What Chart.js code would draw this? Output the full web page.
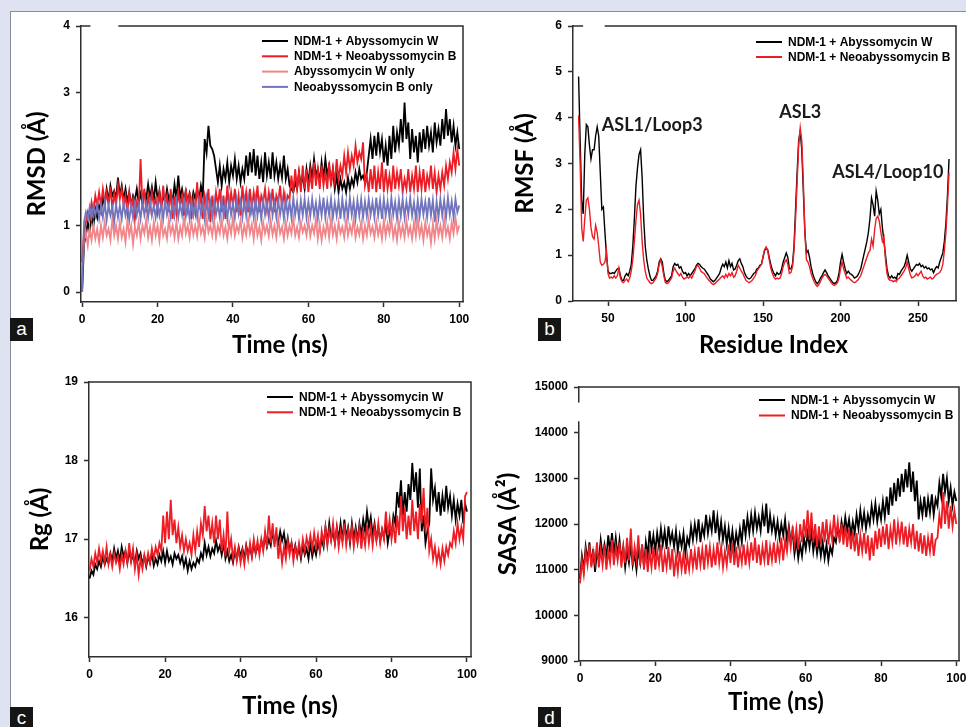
<!DOCTYPE html>
<html><head><meta charset="utf-8">
<script src="https://cdn.jsdelivr.net/npm/chart.js@4.4.0/dist/chart.umd.min.js"></script>
<style>
html,body{margin:0;padding:0;width:966px;height:727px;overflow:hidden;background:#dfe3f1;}
#sheet{position:absolute;left:10px;top:11px;width:956px;height:716px;background:#fff;border-left:1.5px solid #8a8c98;border-top:1.5px solid #8a8c98;}
.pane{position:absolute;}
.pane canvas{display:block;}
.tag{position:absolute;width:23px;height:23px;background:#151515;color:#fff;font:19px "Liberation Sans",Arial,sans-serif;line-height:21px;text-align:center;}
</style></head>
<body>
<div id="sheet"></div>
<div class="pane" style="left:0;top:0"><canvas id="pa" width="483" height="363"></canvas></div>
<div class="pane" style="left:483px;top:0"><canvas id="pb" width="483" height="363"></canvas></div>
<div class="pane" style="left:0;top:363px"><canvas id="pc" width="483" height="364"></canvas></div>
<div class="pane" style="left:483px;top:363px"><canvas id="pd" width="483" height="364"></canvas></div>
<div class="tag" style="left:10px;top:318px">a</div>
<div class="tag" style="left:538px;top:318px">b</div>
<div class="tag" style="left:10px;top:707px">c</div>
<div class="tag" style="left:538px;top:707px">d</div>
<script>
// ---------------- DATA ----------------
const seriesNames = ['NDM-1 + Abyssomycin W','NDM-1 + Neoabyssomycin B','Abyssomycin W only','Neoabyssomycin B only'];
const timeStep = 0.5;      // ns between samples
const timeSamples = 201;   // 0 .. 100 ns
const residueStart = 31;   // first residue in the RMSF profile

const timeTicks = [0,20,40,60,80,100];
const rmsdTicks = [0,1,2,3,4];
const rmsfTicks = [0,1,2,3,4,5,6];
const residueTicks = [50,100,150,200,250];
const rgTicks = [16,17,18,19];
const sasaTicks = [9000,10000,11000,12000,13000,14000,15000];

const rmsdAbyW = [0,0.72,0.85,1.05,0.9,1.15,1.0,1.25,1.12,1.3,
1.2,1.42,1.3,1.55,1.38,1.6,1.45,1.52,1.4,1.72,
1.45,1.6,1.38,1.55,1.35,1.5,1.3,1.45,1.38,1.55,
1.35,1.48,1.32,1.5,1.4,1.62,1.42,1.58,1.38,1.65,
1.4,1.52,1.3,1.45,1.35,1.55,1.38,1.48,1.36,1.62,
1.4,1.75,1.42,1.55,1.38,1.52,1.35,1.48,1.32,1.5,
1.4,1.55,1.38,1.6,1.45,2.3,2.1,2.5,2.2,2.15,
2.05,1.85,1.65,1.9,1.6,1.85,1.7,1.95,1.65,1.9,
1.75,2.0,1.7,1.9,1.65,1.85,1.7,2.05,1.75,2.1,
1.8,2.15,1.75,2.05,1.7,1.95,1.65,2.1,1.75,1.95,
1.7,2.1,1.75,1.95,1.7,1.9,1.72,2.05,1.7,1.85,
1.6,1.55,1.5,1.65,1.55,1.8,1.6,1.75,1.55,1.85,
1.65,1.9,1.7,2.0,1.75,1.85,1.65,1.95,1.7,2.0,
1.75,1.9,1.65,1.85,1.55,1.75,1.5,1.7,1.55,1.65,
1.5,1.72,1.55,1.7,1.6,1.8,1.65,1.85,1.7,1.75,
1.65,1.8,2.05,2.3,2.0,2.35,2.05,2.4,2.1,2.3,
1.95,2.2,1.9,2.35,2.0,2.5,2.1,2.4,2.2,2.6,
2.25,2.85,2.3,2.55,2.0,2.45,2.1,2.35,1.95,2.4,
2.1,2.45,2.15,2.5,2.2,2.4,2.1,2.55,2.25,2.45,
2.2,2.6,2.3,2.75,2.35,2.6,2.25,2.5,2.2,2.4,
2.15];

const rmsdNeoB = [0.45,0.9,1.05,1.2,1.1,1.35,1.2,1.45,1.3,1.5,
1.3,1.55,1.35,1.5,1.3,1.58,1.25,1.48,1.3,1.62,
1.4,1.55,1.3,1.45,1.2,1.5,1.25,1.4,1.1,1.35,
1.25,2.0,1.3,1.55,1.2,1.45,1.25,1.5,1.3,1.4,
1.2,1.5,1.25,1.6,1.3,1.45,1.2,1.55,1.1,1.45,
1.2,1.5,1.3,1.45,1.15,1.55,1.25,1.5,1.1,1.4,
1.2,1.65,1.25,1.5,1.1,1.45,1.3,1.55,1.05,1.45,
1.2,1.5,1.3,1.55,1.2,1.45,1.1,1.6,1.25,1.5,
1.3,1.55,1.2,1.45,1.15,1.6,1.3,1.5,1.2,1.55,
1.25,1.5,1.3,1.6,1.2,1.45,1.35,1.55,1.25,1.5,
1.3,1.55,1.2,1.45,1.35,1.6,1.25,1.5,1.3,1.45,
1.4,1.75,1.5,1.85,1.55,1.8,1.5,1.9,1.55,1.85,
1.5,1.8,1.55,1.95,1.6,1.85,1.55,1.9,1.6,1.8,
1.55,1.95,1.6,1.85,1.65,2.0,1.7,1.9,1.75,2.05,
1.8,2.1,1.85,2.05,1.9,2.2,1.95,2.1,2.0,2.25,
1.6,1.75,1.5,1.85,1.55,1.9,1.5,1.8,1.55,1.95,
1.5,1.85,1.55,1.75,1.5,1.9,1.55,1.8,1.6,1.85,
1.5,1.7,1.55,1.85,1.5,1.75,1.55,1.9,1.5,1.8,
1.55,1.85,1.5,1.75,1.6,1.9,1.55,1.8,1.5,1.75,
1.55,1.8,1.6,1.9,1.7,1.95,1.8,2.1,1.85,2.15,
1.9];

const rmsdAbyOnly = [0.4,0.75,0.9,0.7,0.95,0.78,1.0,0.8,0.95,0.75,
1.0,0.82,1.05,0.85,0.95,0.78,1.1,0.85,1.0,0.8,
1.05,0.82,0.95,0.75,1.08,0.85,1.0,0.72,0.98,0.85,
1.05,0.8,1.0,0.88,1.1,0.82,0.98,0.78,1.05,0.85,
1.0,0.78,1.1,0.85,0.95,0.8,1.08,0.88,1.0,0.82,
1.05,0.8,0.98,0.85,1.12,0.88,1.0,0.82,1.05,0.86,
1.0,0.84,1.1,0.88,0.98,0.82,1.12,0.9,1.0,0.85,
1.08,0.82,1.0,0.88,1.1,0.85,0.98,0.8,1.05,0.88,
1.12,0.85,1.0,0.9,1.08,0.82,1.0,0.86,1.1,0.88,
1.02,0.8,1.1,0.85,0.98,0.78,1.05,0.88,1.0,0.84,
1.08,0.86,1.0,0.82,1.1,0.88,0.98,0.8,1.05,0.85,
1.0,0.88,1.12,0.85,0.98,0.82,1.05,0.9,1.0,0.85,
1.08,0.84,1.0,0.88,1.1,0.8,1.02,0.78,0.98,0.85,
1.05,0.82,1.1,0.86,1.0,0.8,1.05,0.88,0.98,0.82,
1.08,0.85,1.0,0.88,1.1,0.82,0.98,0.86,1.05,0.8,
1.0,0.85,1.1,0.88,0.98,0.82,1.05,0.86,1.0,0.8,
1.08,0.84,1.02,0.88,1.1,0.82,0.98,0.78,1.05,0.85,
1.0,0.82,1.08,0.86,0.98,0.8,1.05,0.84,1.1,0.85,
1.0,0.78,1.05,0.85,0.98,0.74,1.02,0.8,1.08,0.85,
1.0,0.82,1.1,0.86,0.98,0.8,1.05,0.88,1.12,0.9,
1.0];

const rmsdNeoOnly = [0.0,1.05,1.2,1.1,1.28,1.12,1.3,1.15,1.32,1.1,
1.3,1.12,1.35,1.08,1.3,1.15,1.28,1.05,1.32,1.12,
1.3,1.1,1.35,1.15,1.28,1.08,1.32,1.12,1.36,1.15,
1.3,1.1,1.35,1.16,1.32,1.12,1.38,1.15,1.3,1.12,
1.36,1.15,1.32,1.1,1.38,1.16,1.3,1.12,1.35,1.15,
1.38,1.12,1.32,1.16,1.4,1.14,1.34,1.1,1.36,1.15,
1.32,1.12,1.38,1.16,1.34,1.1,1.4,1.15,1.35,1.12,
1.38,1.16,1.32,1.12,1.4,1.15,1.35,1.1,1.38,1.16,
1.34,1.12,1.4,1.18,1.36,1.12,1.38,1.15,1.42,1.16,
1.35,1.12,1.4,1.15,1.36,1.1,1.38,1.16,1.34,1.12,
1.4,1.15,1.35,1.12,1.38,1.16,1.36,1.1,1.4,1.14,
1.36,1.12,1.42,1.16,1.35,1.1,1.38,1.15,1.4,1.12,
1.36,1.14,1.4,1.16,1.34,1.1,1.38,1.15,1.42,1.12,
1.36,1.16,1.4,1.12,1.35,1.15,1.38,1.1,1.4,1.14,
1.35,1.12,1.42,1.16,1.36,1.1,1.38,1.15,1.4,1.12,
1.36,1.14,1.4,1.16,1.35,1.12,1.42,1.15,1.38,1.1,
1.4,1.15,1.36,1.12,1.42,1.16,1.35,1.1,1.38,1.14,
1.4,1.12,1.36,1.16,1.42,1.15,1.35,1.1,1.38,1.14,
1.4,1.16,1.36,1.12,1.42,1.15,1.38,1.05,1.36,1.12,
1.4,1.15,1.38,1.12,1.42,1.16,1.36,1.12,1.4,1.2,
1.3];

const rmsfAbyW = [4.9,3.5,2.2,1.9,3.2,3.85,3.8,3.4,3.1,3.3,
3.3,3.6,3.8,3.6,2.8,2.0,2.05,1.5,1.0,0.65,
0.6,0.6,0.62,0.6,0.65,0.7,0.72,0.55,0.45,0.45,
0.55,0.6,0.55,0.65,0.8,1.2,1.8,2.5,2.9,3.2,
3.3,2.7,1.8,1.2,0.9,0.7,0.55,0.45,0.45,0.5,
0.55,0.65,0.85,0.92,0.85,0.6,0.45,0.42,0.45,0.5,
0.55,0.75,0.82,0.78,0.8,0.72,0.75,0.65,0.6,0.62,
0.55,0.6,0.55,0.6,0.65,0.7,0.78,0.82,0.8,0.75,
0.72,0.7,0.65,0.6,0.55,0.48,0.45,0.42,0.45,0.5,
0.55,0.6,0.72,0.8,0.75,0.85,0.72,0.88,0.75,0.82,
0.68,0.7,0.78,0.88,0.92,0.82,0.75,0.62,0.55,0.5,
0.48,0.5,0.55,0.6,0.62,0.7,0.72,0.78,0.8,0.95,
1.1,1.15,1.12,0.95,0.8,0.68,0.6,0.55,0.62,0.58,
0.6,0.7,0.85,0.95,1.05,0.95,0.7,0.7,0.8,1.2,
2.0,2.8,3.5,3.7,3.3,2.4,1.5,1.05,1.1,0.95,
0.75,0.6,0.5,0.42,0.38,0.42,0.5,0.55,0.62,0.68,
0.62,0.55,0.5,0.45,0.4,0.38,0.4,0.45,0.6,0.85,
1.02,0.85,0.7,0.6,0.65,0.6,0.58,0.55,0.5,0.52,
0.55,0.62,0.7,0.85,1.0,1.15,1.3,1.5,1.8,2.25,
2.1,1.85,2.4,2.2,1.9,2.0,1.6,1.3,1.0,0.7,
0.55,0.5,0.55,0.5,0.52,0.48,0.6,0.58,0.65,0.7,
0.75,0.85,1.0,0.85,0.7,0.65,0.7,0.75,0.8,0.78,
0.82,0.75,0.78,0.72,0.75,0.7,0.72,0.68,0.7,0.62,
0.7,0.75,0.72,0.85,0.95,1.05,1.3,1.7,2.3,3.1];

const rmsfNeoB = [4.05,3.0,1.6,1.3,1.8,2.2,2.25,2.0,1.6,1.4,
1.35,1.65,1.5,1.2,0.85,0.78,0.8,0.85,1.1,0.6,
0.5,0.52,0.5,0.55,0.5,0.55,0.72,0.5,0.42,0.4,
0.45,0.48,0.42,0.5,0.65,0.9,1.3,1.75,2.1,2.2,
1.9,1.3,0.9,0.65,0.5,0.45,0.4,0.38,0.4,0.45,
0.5,0.6,0.8,0.9,0.75,0.55,0.4,0.38,0.4,0.45,
0.5,0.65,0.72,0.65,0.6,0.55,0.6,0.52,0.48,0.5,
0.52,0.5,0.55,0.5,0.58,0.65,0.75,0.78,0.72,0.65,
0.62,0.6,0.55,0.5,0.45,0.42,0.38,0.36,0.38,0.42,
0.45,0.48,0.52,0.55,0.5,0.58,0.52,0.6,0.55,0.62,
0.52,0.55,0.65,0.78,0.72,0.65,0.6,0.52,0.45,0.42,
0.4,0.42,0.45,0.5,0.55,0.65,0.7,0.75,0.8,0.98,
1.12,1.18,1.1,0.9,0.72,0.6,0.52,0.48,0.5,0.48,
0.5,0.6,0.75,0.85,0.9,0.8,0.6,0.62,0.75,1.1,
1.8,2.6,3.4,3.78,3.5,2.6,1.5,0.9,0.85,0.75,
0.6,0.5,0.42,0.36,0.32,0.36,0.42,0.5,0.55,0.58,
0.55,0.5,0.45,0.4,0.36,0.34,0.36,0.4,0.5,0.7,
0.85,0.7,0.6,0.5,0.52,0.48,0.45,0.42,0.4,0.42,
0.45,0.5,0.55,0.65,0.75,0.85,0.95,1.05,1.1,1.35,
1.2,1.55,1.8,1.85,1.75,1.5,1.3,1.4,0.9,0.6,
0.48,0.45,0.45,0.42,0.45,0.42,0.48,0.5,0.55,0.6,
0.65,0.72,0.85,0.7,0.58,0.5,0.52,0.55,0.6,0.55,
0.6,0.65,0.55,0.5,0.52,0.48,0.5,0.52,0.48,0.5,
0.55,0.58,0.6,0.62,0.68,0.8,1.1,1.5,2.1,2.8];

const rgAbyW = [16.5,16.6,16.55,16.68,16.62,16.72,16.65,16.78,16.68,16.75,
16.7,16.82,16.72,16.88,16.75,16.85,16.72,16.9,16.78,16.85,
16.7,16.85,16.72,16.8,16.68,16.85,16.75,16.82,16.68,16.78,
16.65,16.78,16.7,16.82,16.66,16.75,16.68,16.8,16.72,16.85,
16.7,16.85,16.72,16.78,16.68,16.82,16.75,16.8,16.7,16.78,
16.65,16.75,16.6,16.72,16.62,16.7,16.65,16.75,16.7,16.82,
16.75,16.95,16.8,16.9,16.78,16.88,16.82,16.98,16.85,16.92,
16.8,16.95,16.75,16.85,16.72,16.8,16.7,16.85,16.75,16.9,
16.78,16.88,16.75,16.92,16.8,16.9,16.78,16.95,16.82,16.9,
16.85,16.98,16.88,17.05,16.9,17.0,16.92,17.1,16.95,17.05,
16.95,17.1,16.98,17.08,16.9,17.02,16.85,16.95,16.8,16.92,
16.78,16.9,16.75,16.92,16.8,16.88,16.75,16.95,16.78,16.9,
16.8,16.95,16.85,17.0,16.9,17.15,16.95,17.2,17.0,17.1,
16.95,17.15,17.0,17.2,16.98,17.25,17.02,17.15,16.95,17.2,
17.0,17.15,16.98,17.2,17.05,17.25,17.1,17.35,17.15,17.28,
17.05,17.2,17.0,17.15,16.98,17.12,17.02,17.2,16.95,17.1,
17.05,17.3,17.2,17.6,17.4,17.75,17.3,17.6,17.35,17.7,
17.5,17.97,17.6,17.85,17.4,17.9,17.1,17.3,16.95,17.1,
17.2,17.9,17.5,17.65,17.35,17.6,17.3,17.55,17.35,17.68,
17.4,17.55,17.3,17.5,17.25,17.45,17.3,17.5,17.2,17.45,
17.35];

const rgNeoB = [16.6,16.75,16.65,16.82,16.7,16.88,16.72,16.85,16.7,16.9,
16.68,16.8,16.65,16.82,16.7,16.78,16.62,16.8,16.68,16.85,
16.7,16.95,16.72,16.88,16.62,16.8,16.55,16.75,16.62,16.8,
16.68,16.82,16.7,16.88,16.75,16.9,16.8,16.95,16.85,17.3,
16.95,17.35,17.0,17.5,17.05,17.25,16.95,17.15,16.9,17.05,
16.85,17.0,16.85,16.95,16.8,17.05,16.85,17.1,16.9,17.2,
17.05,17.42,17.1,17.3,17.0,17.2,16.95,17.3,17.0,17.25,
16.85,17.05,16.78,17.35,16.85,17.0,16.75,16.9,16.72,16.88,
16.7,16.85,16.68,16.9,16.75,16.95,16.78,17.0,16.82,16.98,
16.8,17.0,16.85,17.1,16.9,17.3,16.95,17.2,16.9,17.15,
16.75,16.95,16.7,16.9,16.75,16.98,16.8,16.95,16.72,16.9,
16.78,16.95,16.8,17.0,16.85,17.02,16.9,17.05,16.88,17.08,
16.9,17.05,16.85,17.1,16.95,17.15,16.92,17.12,16.98,17.2,
16.95,17.15,16.9,17.1,16.95,17.2,16.92,17.12,16.98,17.15,
16.9,17.1,16.95,17.15,16.88,17.1,16.92,17.18,16.95,17.15,
16.92,17.15,16.98,17.2,16.95,17.12,17.0,17.35,17.05,17.25,
17.0,17.2,16.95,17.3,17.05,17.55,17.1,17.4,17.0,17.3,
17.05,17.5,17.1,17.35,17.0,17.45,17.2,17.65,17.1,17.4,
16.85,17.0,16.75,16.9,16.7,16.85,16.68,16.88,16.72,16.9,
16.8,16.95,16.9,17.1,16.95,17.2,17.0,17.15,17.0,17.55,
17.6];

const sasaAbyW = [10800,11300,11000,11500,11200,11600,11100,11450,10950,11400,
11200,11650,11300,11550,11250,11750,11400,11800,11350,11700,
11300,11650,11200,11500,11050,11400,11150,11550,11100,11350,
11000,11450,11150,11550,11050,11600,11300,11850,11450,11750,
11400,11800,11500,11900,11550,11850,11450,11950,11600,11800,
11500,11850,11400,11750,11500,11800,11350,11700,11550,11950,
11650,12000,11700,12100,11600,11950,11750,12200,11800,12100,
11850,12300,11800,12150,11700,12050,11650,11950,11550,11900,
11500,11850,11450,11800,11550,11900,11600,12100,11750,12150,
11800,12200,11850,12250,11900,12150,11850,12300,11950,12450,
11800,12200,11850,12100,11750,12050,11700,12000,11750,12100,
11650,11950,11600,11850,11350,11650,11250,11550,11300,11700,
11450,11800,11500,11850,11400,11700,11350,11650,11300,11600,
11250,11550,11200,11500,11350,11700,11600,11950,11700,12050,
11800,12150,11850,12100,11750,12050,11800,12200,11900,12300,
11950,12250,11900,12200,12000,12400,12100,12450,12050,12350,
12100,12500,12150,12600,12200,12800,12400,12900,12500,13000,
12600,13100,12700,13200,12800,13350,12700,13150,12500,12950,
12100,12500,12200,12600,12150,12550,12250,12650,12200,12550,
12400,12900,12600,13100,12700,13000,12500,12800,12400,12700,
12500];

const sasaNeoB = [10700,11200,10900,11400,11100,11550,11050,11400,11150,11600,
11050,11450,11100,11550,11000,11400,11150,11650,11100,11500,
11200,11600,11050,11500,11150,11700,11200,11900,11100,11500,
11200,11750,11100,11550,11000,11450,10950,11400,11050,11500,
11000,11400,11100,11550,10950,11350,11050,11500,11000,11450,
10850,11300,10950,11400,11000,11350,10900,11300,11000,11450,
11050,11400,11000,11500,11100,11450,11000,11550,11150,11500,
11050,11450,11100,11600,11150,11500,11050,11400,11100,11550,
11150,11600,11100,11500,11050,11450,11150,11550,11100,11500,
11150,11600,11200,11700,11150,11550,11100,11500,11200,11650,
11100,11500,11200,11600,11150,11550,11250,11700,11200,11650,
11400,11850,11500,11950,11550,11900,11450,12000,11600,12100,
11700,12300,11650,12250,11600,12000,11500,11950,11550,12050,
11600,12100,11550,11950,11650,12200,11700,12050,11600,12000,
11550,11950,11500,11900,11450,11850,11400,11800,11300,11750,
11400,11800,11350,11750,11200,11700,11300,11850,11450,11900,
11500,11950,11550,12000,11450,11900,11600,12100,11550,12000,
11650,12050,11550,11950,11500,11900,11600,12000,11450,11850,
11400,11800,11350,11750,11300,11700,11400,11800,11300,11650,
11700,12200,11900,12700,12000,12500,11900,12400,11950,12300,
12000];

// text annotations of panel b (residue, RMSF)
const rmsfNotes = [
  {text:'ASL1/Loop3', residue:78.5, value:3.83},
  {text:'ASL3', residue:174, value:4.12},
  {text:'ASL4/Loop10', residue:230.5, value:2.81}
];

// ---------------- STYLE ----------------
const C_BLACK='#000000', C_RED='#ee1c24', C_PINK='#f18589', C_BLUE='#7275bd';
const TICK_FONT='"Liberation Sans", Arial, sans-serif';
const TITLE_FONT='Lato, "Open Sans", sans-serif';
const AXIS_COL='#2e2e2e';

const timeAxis = Array.from({length: timeSamples}, (_, i) => i * timeStep);
const residueAxis = rmsfAbyW.map((_, i) => residueStart + i);

function series(label, xs, ys, color, order, width){
  return {label, data: ys.map((v,i)=>({x:xs[i], y:v})), borderColor:color, backgroundColor:color,
    borderWidth:width, pointRadius:0, tension:0, order, fill:false};
}

const decor = {
  id:'decor',
  afterDraw(chart, args, o){
    const {ctx, chartArea:a, scales} = chart;
    ctx.save();
    ctx.strokeStyle = AXIS_COL; ctx.lineWidth = 1.5;
    ctx.beginPath();
    ctx.moveTo(a.left, a.top); ctx.lineTo(a.right, a.top); ctx.lineTo(a.right, a.bottom);
    ctx.stroke();
    (o.gaps||[]).forEach(g=>{
      ctx.strokeStyle='#ffffff'; ctx.lineWidth=4; ctx.beginPath();
      if(g.axis==='x'){ ctx.moveTo(scales.x.getPixelForValue(g.from), a.top); ctx.lineTo(scales.x.getPixelForValue(g.to), a.top); }
      else { ctx.moveTo(a.left, scales.y.getPixelForValue(g.from)); ctx.lineTo(a.left, scales.y.getPixelForValue(g.to)); }
      ctx.stroke();
    });
    if(o.legend){
      const L=o.legend;
      ctx.font = 'bold 12px '+TICK_FONT; ctx.textBaseline='middle'; ctx.textAlign='left';
      L.items.forEach((it,i)=>{
        const y = L.y + i*L.dy;
        ctx.strokeStyle = it.color; ctx.lineWidth = 2;
        ctx.beginPath(); ctx.moveTo(L.x, y); ctx.lineTo(L.x+26, y); ctx.stroke();
        ctx.fillStyle='#000'; ctx.fillText(it.text, L.x+32, y+0.5);
      });
    }
    (o.notes||[]).forEach(n=>{
      ctx.font='bold 18px '+TITLE_FONT; ctx.fillStyle='#1a1a1a'; ctx.textAlign='center'; ctx.textBaseline='middle';
      ctx.fillText(n.text, scales.x.getPixelForValue(n.residue), scales.y.getPixelForValue(n.value));
    });
    ctx.restore();
  }
};

function makeChart(id, s){
  const tickFont = {family:TICK_FONT, size:12, weight:'bold'};
  const titleFont = {family:TITLE_FONT, size:24, weight:'bold', lineHeight:1};
  const grid = {display:true, drawOnChartArea:false, drawTicks:true, tickLength:5, tickWidth:1.5, tickColor:AXIS_COL};
  return new Chart(document.getElementById(id), {
    type:'line',
    data:{datasets:s.datasets},
    plugins:[decor],
    options:{
      responsive:false, animation:false, events:[], parsing:true,
      layout:{padding:{left:0, top:s.T, right:s.R, bottom:0}, autoPadding:false},
      plugins:{legend:{display:false}, tooltip:{enabled:false}, title:{display:false},
        decor:{legend:s.legend, notes:s.notes, gaps:s.gaps}},
      scales:{
        x:{type:'linear', min:s.xMin, max:s.xMax,
          afterBuildTicks: sc => { sc.ticks = s.xTicks.map(v=>({value:v})); },
          afterFit: sc => {
            sc.height = s.XH; sc.paddingLeft = 0; sc.paddingRight = 0;
            if(!sc._shiftDone){
              const orig = sc.drawTitle.bind(sc);
              sc.drawTitle = function(){ this.left += s.xTitleShift; this.right += s.xTitleShift; orig(); this.left -= s.xTitleShift; this.right -= s.xTitleShift; };
              sc._shiftDone = true;
            }
          },
          grid, border:{display:true, color:AXIS_COL, width:1.5},
          ticks:{padding:5, color:'#000', font:tickFont, maxRotation:0, autoSkip:false, callback:v=>String(v)},
          title:{display:true, text:s.xTitle, color:'#000', font:titleFont, padding:{top:0, bottom:s.xTitlePad}}
        },
        y:{type:'linear', min:s.yMin, max:s.yMax,
          afterBuildTicks: sc => { sc.ticks = s.yTicks.map(v=>({value:v})); },
          afterFit: sc => { sc.width = s.L; sc.paddingTop = 0; sc.paddingBottom = 0; },
          grid, border:{display:true, color:AXIS_COL, width:1.5},
          ticks:{padding:6, color:'#000', font:tickFont, autoSkip:false, callback:v=>String(v)},
          title:{display:true, text:s.yTitle, color:'#000', font:titleFont, padding:{top:s.yTitlePad, bottom:0}}
        }
      }
    }
  });
}

const legend2 = [{text:seriesNames[0], color:C_BLACK},{text:seriesNames[1], color:C_RED}];
const TW = 1.8; // time-series line width
const PW = 1.4; // profile line width

makeChart('pa', {
  L:81, T:26, R:20, XH:61,
  xMin:-0.3, xMax:101, xTicks:timeTicks, yMin:-0.15, yMax:4, yTicks:rmsdTicks,
  xTitle:'Time (ns)', yTitle:'RMSD (Å)', xTitlePad:5.5, yTitlePad:25, xTitleShift:8,
  datasets:[
    series(seriesNames[0], timeAxis, rmsdAbyW, C_BLACK, 4, TW),
    series(seriesNames[1], timeAxis, rmsdNeoB, C_RED, 2, TW),
    series(seriesNames[2], timeAxis, rmsdAbyOnly, C_PINK, 3, TW),
    series(seriesNames[3], timeAxis, rmsdNeoOnly, C_BLUE, 1, TW)
  ],
  legend:{x:262, y:41, dy:15.3, items:[
    {text:seriesNames[0], color:C_BLACK},{text:seriesNames[1], color:C_RED},
    {text:seriesNames[2], color:C_PINK},{text:seriesNames[3], color:C_BLUE}]},
  gaps:[{axis:'x', from:2.2, to:9.6}]
});

makeChart('pb', {
  L:90, T:26, R:10, XH:62,
  xMin:27.4, xMax:274.5, xTicks:residueTicks, yMin:0, yMax:6, yTicks:rmsfTicks,
  xTitle:'Residue Index', yTitle:'RMSF (Å)', xTitlePad:6, yTitlePad:30, xTitleShift:9,
  datasets:[
    series(seriesNames[0], residueAxis, rmsfAbyW, C_BLACK, 2, PW),
    series(seriesNames[1], residueAxis, rmsfNeoB, C_RED, 1, PW)
  ],
  legend:{x:273, y:42, dy:15, items:legend2},
  notes:rmsfNotes,
  gaps:[{axis:'x', from:33.9, to:47.8}]
});

makeChart('pc', {
  L:89, T:19, R:12, XH:70,
  xMin:-0.16, xMax:101.06, xTicks:timeTicks, yMin:15.5, yMax:19, yTicks:rgTicks,
  xTitle:'Time (ns)', yTitle:'Rg (Å)', xTitlePad:9, yTitlePad:28, xTitleShift:10,
  datasets:[
    series(seriesNames[0], timeAxis, rgAbyW, C_BLACK, 2, TW),
    series(seriesNames[1], timeAxis, rgNeoB, C_RED, 1, TW)
  ],
  legend:{x:267, y:34, dy:15.3, items:legend2}
});

makeChart('pd', {
  L:96, T:24, R:7, XH:66,
  xMin:-0.27, xMax:100.72, xTicks:timeTicks, yMin:9000, yMax:15000, yTicks:sasaTicks,
  xTitle:'Time (ns)', yTitle:'SASA (Å²)', xTitlePad:13, yTitlePad:13, xTitleShift:7,
  datasets:[
    series(seriesNames[0], timeAxis, sasaAbyW, C_BLACK, 2, TW),
    series(seriesNames[1], timeAxis, sasaNeoB, C_RED, 1, TW)
  ],
  legend:{x:276, y:37, dy:15.5, items:legend2},
  gaps:[{axis:'y', from:14250, to:14660}]
});
</script>
</body></html>
